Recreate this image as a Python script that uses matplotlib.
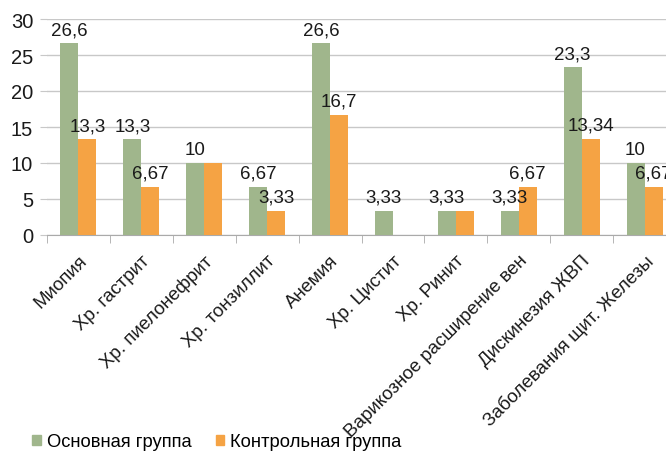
import matplotlib
matplotlib.use("Agg")
import matplotlib.pyplot as plt
import numpy as np
from matplotlib.patches import Patch

plt.rcParams['font.family'] = ['Liberation Sans', 'DejaVu Sans']

categories = ["Миопия", "Хр. гастрит", "Хр. пиелонефрит", "Хр. тонзиллит", "Анемия",
              "Хр. Цистит", "Хр. Ринит", "Варикозное расширение вен", "Дискинезия ЖВП",
              "Заболевания щит. Железы"]
main_group = [26.6, 13.3, 10, 6.67, 26.6, 3.33, 3.33, 3.33, 23.3, 10]
control_group = [13.3, 6.67, 10, 3.33, 16.7, 0, 3.33, 6.67, 13.34, 6.67]
main_labels = ["26,6", "13,3", "10", "6,67", "26,6", "3,33", "3,33", "3,33", "23,3", "10"]
control_labels = ["13,3", "6,67", "", "3,33", "16,7", "", "", "6,67", "13,34", "6,67"]
series_names = ["Основная группа", "Контрольная группа"]
yticks = [0, 5, 10, 15, 20, 25, 30]

green = "#a0b68c"
orange = "#f5a344"

fig = plt.figure(figsize=(6.66, 4.52), dpi=100)
ax = fig.add_axes([47/666, 216/452, 629/666, 216/452])

x = np.arange(len(categories))
w = 0.286
b1 = ax.bar(x - w/2, main_group, w, color=green, zorder=3)
b2 = ax.bar(x + w/2, control_group, w, color=orange, zorder=3)

for rect, lab in zip(b1, main_labels):
    if lab:
        ax.text(rect.get_x() + rect.get_width()/2, rect.get_height() + 0.7, lab,
                ha='center', va='bottom', fontsize=13.5, color='#1a1a1a', zorder=5)
for rect, lab in zip(b2, control_labels):
    if lab:
        ax.text(rect.get_x() + rect.get_width()/2, rect.get_height() + 0.7, lab,
                ha='center', va='bottom', fontsize=13.5, color='#1a1a1a', zorder=5)

ax.set_xlim(-0.5, len(categories) - 0.5)
ax.set_ylim(0, 30)
ax.set_yticks(yticks)
ax.set_yticklabels([str(t) for t in yticks], fontsize=14.5, color='#1a1a1a')
ax.yaxis.grid(True, color='#c8c8c8', linewidth=1, zorder=0)
ax.set_axisbelow(True)

ax.set_xticks(x)
ax.set_xticklabels(categories, rotation=45, ha='right', rotation_mode='anchor',
                   fontsize=13.5, color='#1a1a1a')
ax.tick_params(axis='x', length=0, pad=12)
ax.set_xticks(np.arange(len(categories) + 1) - 0.5, minor=True)
ax.tick_params(axis='x', which='minor', length=6, color='#aaaaaa')
ax.tick_params(axis='y', length=5, color='#c8c8c8', pad=5)

for s in ['top', 'right']:
    ax.spines[s].set_visible(False)
ax.spines['left'].set_visible(False)
ax.spines['bottom'].set_color('#aaaaaa')

handles = [Patch(color=green, label=series_names[0]), Patch(color=orange, label=series_names[1])]
fig.legend(handles=handles, loc='lower left', bbox_to_anchor=(0.024, -0.035), ncol=2,
           frameon=False, fontsize=13.2, handlelength=0.45, handleheight=0.45,
           handletextpad=0.35, columnspacing=1.3)

fig.savefig("out.png", dpi=100)
